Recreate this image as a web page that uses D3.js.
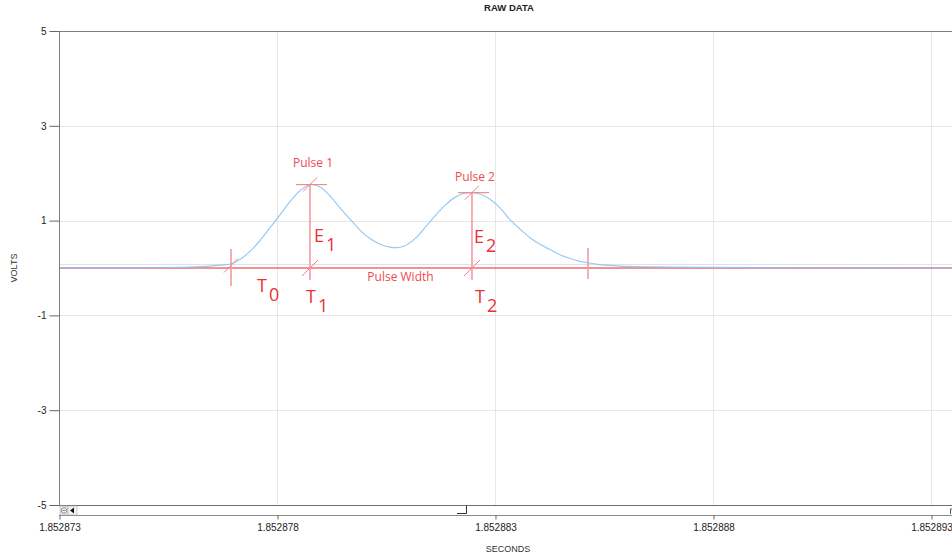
<!DOCTYPE html>
<html>
<head>
<meta charset="utf-8">
<script src="https://cdn.jsdelivr.net/npm/d3@7/dist/d3.min.js"></script>
<style>
  html, body { margin: 0; padding: 0; background: #fff; }
  svg { display: block; }
</style>
</head>
<body>
<svg id="chart" width="952" height="558"></svg>
<script>
// Time base of the capture (seconds); sample times below are microseconds after it
const timeBase = 1.852873;
const sampleTimeUs = [0, 2.087, 3.005, 3.463, 3.693, 3.945, 4.151, 4.381, 4.610, 4.839,
  5.069, 5.298, 5.528, 5.757, 5.986, 6.216, 6.445, 6.674, 6.904, 7.133, 7.362, 7.592,
  7.752, 7.936, 8.165, 8.394, 8.624, 8.853, 9.083, 9.312, 9.472, 9.656, 9.885, 10.115,
  10.344, 10.573, 10.803, 11.032, 11.261, 11.491, 11.720, 11.950, 12.133, 12.408,
  12.867, 13.555, 14.702, 16.995, 20.482];
const sampleVolts = [0.01, 0.01, 0.02, 0.04, 0.06, 0.09, 0.18, 0.35, 0.58, 0.85,
  1.12, 1.40, 1.63, 1.76, 1.71, 1.52, 1.27, 1.03, 0.80, 0.62, 0.50, 0.44,
  0.43, 0.47, 0.62, 0.85, 1.10, 1.32, 1.49, 1.58, 1.59, 1.56, 1.45, 1.27,
  1.02, 0.82, 0.64, 0.50, 0.39, 0.28, 0.20, 0.14, 0.11, 0.07,
  0.04, 0.025, 0.015, 0.005, 0.0];

// Axis ticks
const voltTicks = [5, 3, 1, -1, -3, -5];
const timeTicksUs = [0, 5, 10, 15, 20];
const timeTickLabels = ["1.852873", "1.852878", "1.852883", "1.852888", "1.852893"];
const triggerLevel = 0.09;

// Pulse measurements
const pulseStartUs = 3.945;       // T0
const pulseEndUs = 12.133;
const pulsePeakUs = [5.757, 9.472];   // T1, T2
const pulsePeakVolts = [1.76, 1.59];  // E1, E2
const pulseNames = ["Pulse 1", "Pulse 2"];
const baselineVolts = 0;

const svg = d3.select("#chart");
const plotLeft = 59, plotRight = 952, plotTop = 31, plotBottom = 505;

const x = d3.scaleLinear().domain([0, 20.482]).range([plotLeft, plotRight]);
const y = d3.scaleLinear().domain([-5, 5]).range([plotBottom, plotTop]);

const axisFont = "Liberation Sans, Arial, sans-serif";
const noteFont = "Open Sans, Noto Sans, sans-serif";

// Grid
const grid = svg.append("g").attr("stroke", "#e6e6e6").attr("stroke-width", 1);
voltTicks.filter(v => v !== 5 && v !== -5).forEach(v => {
  grid.append("line").attr("x1", plotLeft).attr("x2", plotRight)
    .attr("y1", Math.round(y(v)) + 0.5).attr("y2", Math.round(y(v)) + 0.5);
});
timeTicksUs.filter(t => t > 0).forEach(t => {
  grid.append("line").attr("y1", plotTop).attr("y2", plotBottom)
    .attr("x1", Math.round(x(t)) + 0.5).attr("x2", Math.round(x(t)) + 0.5);
});
grid.append("line").attr("x1", plotLeft).attr("x2", plotRight)
  .attr("y1", Math.round(y(triggerLevel)) + 0.5).attr("y2", Math.round(y(triggerLevel)) + 0.5)
  .attr("stroke", "#e2e2e2");

// Baseline for pulse width
svg.append("line")
  .attr("x1", plotLeft + 1).attr("x2", plotRight)
  .attr("y1", y(baselineVolts)).attr("y2", y(baselineVolts))
  .attr("stroke", "#f06c70").attr("stroke-width", 1.4);

// Signal trace
const samples = sampleTimeUs.map((t, i) => ({ t, v: sampleVolts[i] }));
svg.append("path")
  .datum(samples)
  .attr("fill", "none")
  .attr("stroke", "#8cc4f2")
  .attr("stroke-opacity", 0.9)
  .attr("stroke-width", 1.2)
  .attr("d", d3.line().x(d => x(d.t)).y(d => y(d.v)).curve(d3.curveCatmullRom.alpha(0.5)));

// Annotation marks
const ann = svg.append("g");
const markColor = "#f39aa2";
const textColor = "#ec2f36";
const labelColor = "#ee4a4f";

function slash(cx, cy, len) {
  ann.append("line")
    .attr("x1", cx - len).attr("y1", cy + len)
    .attr("x2", cx + len).attr("y2", cy - len)
    .attr("stroke", "#f27f86").attr("stroke-width", 1);
}

// Start and end markers
[pulseStartUs, pulseEndUs].forEach((t, i) => {
  ann.append("line")
    .attr("x1", x(t)).attr("x2", x(t))
    .attr("y1", y(baselineVolts) - (i === 0 ? 19 : 20))
    .attr("y2", y(baselineVolts) + (i === 0 ? 18 : 11))
    .attr("stroke", markColor).attr("stroke-width", 1.6);
});
slash(x(pulseStartUs), y(baselineVolts) - 2.5, 7);

// Peak markers
const labelLift = [18, 12];
pulsePeakUs.forEach((t, i) => {
  const px = x(t), py = y(pulsePeakVolts[i]);
  ann.append("line").attr("x1", px).attr("x2", px)
    .attr("y1", py).attr("y2", y(baselineVolts) + 12)
    .attr("stroke", markColor).attr("stroke-width", 1.6);
  ann.append("line").attr("x1", px - 14).attr("x2", px + 17)
    .attr("y1", py).attr("y2", py)
    .attr("stroke", "#f28b90").attr("stroke-width", 1.2);
  slash(px, py, 7);
  slash(px, y(baselineVolts), 8);
  ann.append("text")
    .attr("x", px + 3).attr("y", py - labelLift[i])
    .attr("text-anchor", "middle")
    .attr("font-family", noteFont).attr("font-size", 12)
    .attr("fill", labelColor)
    .text(pulseNames[i]);
});

// Symbol labels with subscripts
function symbol(sx, sy, letter, sub) {
  const tx = ann.append("text")
    .attr("x", sx).attr("y", sy)
    .attr("font-family", noteFont).attr("font-size", 18)
    .attr("fill", textColor);
  tx.append("tspan").text(letter);
  tx.append("tspan").attr("dx", 2).attr("dy", 9).text(sub);
}
symbol(x(pulseStartUs) + 26, y(baselineVolts) + 24, "T", "0");
symbol(x(pulsePeakUs[0]) - 4, y(baselineVolts) + 35, "T", "1");
symbol(x(pulsePeakUs[1]) + 3, y(baselineVolts) + 35, "T", "2");
symbol(x(pulsePeakUs[0]) + 4, y(baselineVolts) - 26, "E", "1");
symbol(x(pulsePeakUs[1]) + 2, y(baselineVolts) - 25, "E", "2");

ann.append("text")
  .attr("x", (x(pulseStartUs) + x(pulseEndUs)) / 2 - 9)
  .attr("y", y(baselineVolts) + 13)
  .attr("text-anchor", "middle")
  .attr("font-family", noteFont).attr("font-size", 12)
  .attr("fill", labelColor)
  .text("Pulse Width");

// Frame
svg.append("line").attr("x1", plotLeft).attr("x2", plotRight).attr("y1", plotTop + 0.5).attr("y2", plotTop + 0.5)
  .attr("stroke", "#7f7f7f").attr("stroke-width", 1);

// Y axis
const yAxis = svg.append("g")
  .attr("transform", `translate(${plotLeft + 0.5},0)`)
  .call(d3.axisLeft(y).tickValues(voltTicks).tickSize(10).tickPadding(3).tickSizeOuter(0)
    .tickFormat(d => String(d)));
yAxis.select(".domain").attr("stroke", "#7f7f7f").attr("d", `M0,${plotTop}V${plotBottom + 10}`);
yAxis.selectAll(".tick line").attr("stroke", "#666");
yAxis.selectAll(".tick text").attr("font-family", axisFont).attr("font-size", 10).attr("fill", "#222");

// Scroll bar strip under the plot
const sb = svg.append("g");
sb.append("rect").attr("x", plotLeft).attr("y", plotBottom).attr("width", plotRight - plotLeft).attr("height", 10)
  .attr("fill", "#fff");
sb.append("line").attr("x1", plotLeft).attr("x2", plotRight).attr("y1", plotBottom + 0.5).attr("y2", plotBottom + 0.5)
  .attr("stroke", "#6f6f6f");
sb.append("line").attr("x1", plotLeft).attr("x2", plotRight).attr("y1", plotBottom + 10.5).attr("y2", plotBottom + 10.5)
  .attr("stroke", "#8a8a8a");
sb.append("rect").attr("x", plotLeft + 1).attr("y", plotBottom + 1).attr("width", 8).attr("height", 9)
  .attr("fill", "#eee").attr("stroke", "#aaa").attr("stroke-width", 0.6);
sb.append("circle").attr("cx", plotLeft + 5).attr("cy", plotBottom + 5.5).attr("r", 2.8)
  .attr("fill", "none").attr("stroke", "#666").attr("stroke-width", 0.7);
sb.append("line").attr("x1", plotLeft + 3.4).attr("x2", plotLeft + 6.6).attr("y1", plotBottom + 5.5).attr("y2", plotBottom + 5.5)
  .attr("stroke", "#666").attr("stroke-width", 0.7);
sb.append("rect").attr("x", plotLeft + 9).attr("y", plotBottom + 1).attr("width", 9).attr("height", 9)
  .attr("fill", "#f4f4f4").attr("stroke", "#aaa").attr("stroke-width", 0.6);
sb.append("path").attr("d", `M${plotLeft + 11},${plotBottom + 5.5}L${plotLeft + 15},${plotBottom + 2.5}L${plotLeft + 15},${plotBottom + 8.5}Z`)
  .attr("fill", "#111");
sb.append("path").attr("d", `M457,${plotBottom + 8.5}H466.5V${plotBottom + 1}`)
  .attr("fill", "none").attr("stroke", "#333").attr("stroke-width", 1);
sb.append("path").attr("d", `M950.5,${plotBottom + 9}V${plotBottom + 4}H952`)
  .attr("fill", "none").attr("stroke", "#555").attr("stroke-width", 1);

// X axis
const xAxis = svg.append("g")
  .attr("transform", `translate(0.5,${plotBottom + 10.5})`)
  .call(d3.axisBottom(x).tickValues(timeTicksUs).tickSize(4).tickPadding(4).tickSizeOuter(0)
    .tickFormat((d, i) => timeTickLabels[i]));
xAxis.select(".domain").remove();
xAxis.selectAll(".tick line").attr("stroke", "#666");
xAxis.selectAll(".tick text").attr("font-family", axisFont).attr("font-size", 10).attr("fill", "#222");

// Titles
svg.append("text").attr("x", 509).attr("y", 11).attr("text-anchor", "middle")
  .attr("font-family", axisFont).attr("font-size", 9.5).attr("font-weight", "bold").attr("fill", "#222")
  .text("RAW DATA");
svg.append("text").attr("x", 508).attr("y", 552).attr("text-anchor", "middle")
  .attr("font-family", axisFont).attr("font-size", 9).attr("fill", "#333")
  .text("SECONDS");
svg.append("text").attr("transform", "translate(17,268) rotate(-90)").attr("text-anchor", "middle")
  .attr("font-family", axisFont).attr("font-size", 9).attr("fill", "#333")
  .text("VOLTS");
</script>
</body>
</html>
